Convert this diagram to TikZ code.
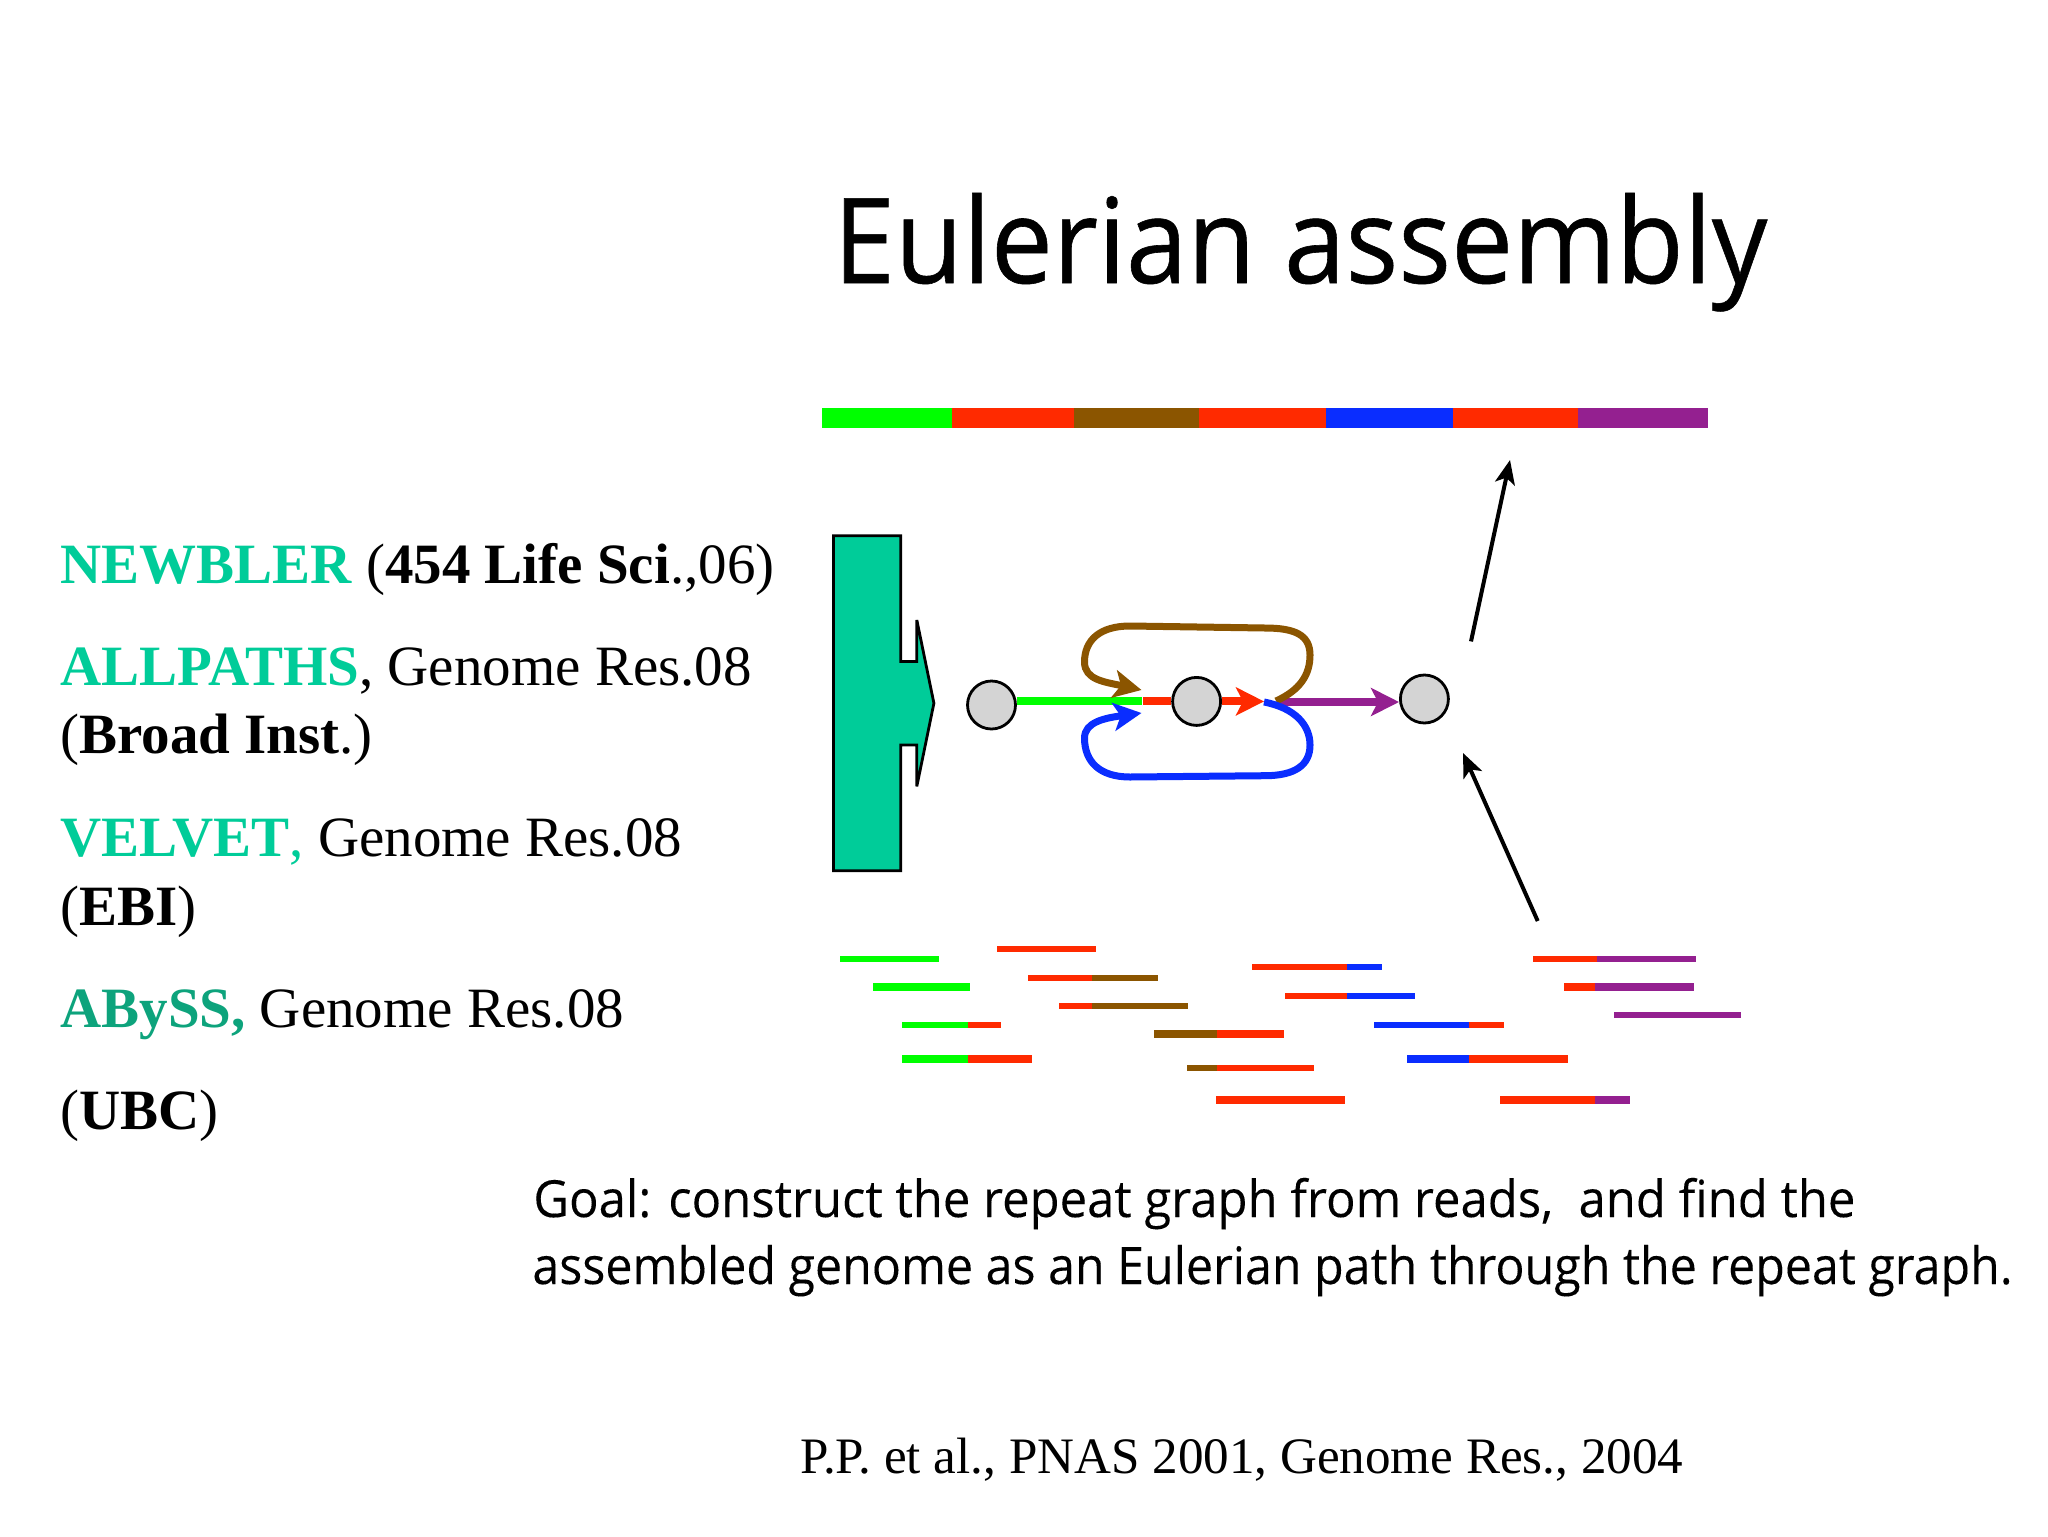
\documentclass[tikz,border=0pt]{standalone}
\usepackage{fontspec}
\usepackage{graphicx}
\setmainfont{Liberation Serif}
\newfontfamily\sansf{Open Sans}
\newfontfamily\sanstitle{Open Sans}[FakeBold=0.5]
\newfontfamily\sansgoal{Open Sans}[FakeBold=0.15]
\usetikzlibrary{arrows.meta}
\definecolor{gGreen}{HTML}{00FF00}
\definecolor{gRed}{HTML}{FF2A00}
\definecolor{gBrown}{HTML}{8B5500}
\definecolor{gBlue}{HTML}{0A2DFF}
\definecolor{gPurple}{HTML}{942090}
\definecolor{teal}{HTML}{00CC99}
\definecolor{tealD}{HTML}{0DA37C}
\tikzset{
  vertex/.style={circle,draw=black,fill=black!17,line width=1.4pt,minimum size=24pt,inner sep=0pt},
  edge/.style={line width=4pt},
  loop/.style={line width=3.5pt},
  tip/.style={-{Stealth[length=14pt,width=14pt,inset=3.5pt]}},
  ptr/.style={line width=2pt,-{Stealth[length=12pt,width=10pt,inset=3pt]}},
  lbl/.style={anchor=base west,inner sep=0pt,font=\fontsize{28.5}{29}\selectfont},
  sans/.style={anchor=base west,inner sep=0pt},
}
\begin{document}
\begin{tikzpicture}[x=0.5pt,y=-0.5pt]
\useasboundingbox (0,0) rectangle (2048,1536);
\fill[white] (0,0) rectangle (2048,1536);
% title
\node[sans,font=\sanstitle] (title) at (833,283) {\resizebox{467pt}{45pt}{Eulerian assembly}};
% genome bar
\foreach \a/\b/\c in {822/951.7/gGreen,951.7/1073.5/gRed,1073.5/1199/gBrown,1199/1326.4/gRed,1326.4/1452.6/gBlue,1452.6/1578/gRed,1578/1708/gPurple}
  \fill[\c] (\a,408) rectangle (\b,427.5);
% big arrow
\draw[fill=teal,line width=1.4pt,miter limit=3] (833.5,535.7) -- (900.8,535.7) -- (900.8,661.4) -- (916.8,661.4) -- (916.8,620) -- (933.9,703.2) -- (916.8,786.4) -- (916.8,745) -- (900.8,745) -- (900.8,870.7) -- (833.5,870.7) -- cycle;
% vertices
\node[vertex] (c1) at (991.5,705) {};
\node[vertex] (c2) at (1196.6,701.4) {};
\node[vertex] (c3) at (1424.4,699) {};
\coordinate (jin) at (1141.5,701.4);
\coordinate (jout) at (1264,701.4);
\coordinate (pstart) at (1279,702);
\coordinate (broIn) at (1141.5,690);
\coordinate (bluIn) at (1141.5,713);
% edges
\draw[edge,gGreen] (c1.east |- jin) -- (jin);
\draw[edge,gRed] (1143,701.4) -- (c2.west |- jin);
\draw[edge,gRed,tip] (c2.east |- jout) -- (jout);
\draw[edge,gPurple,tip] (pstart) -- (c3.west |- pstart);
\draw[loop,gBrown,tip] (1276,701) .. controls (1300,690) and (1310,675) .. (1310,655)
  .. controls (1310,635) and (1295,628) .. (1265,628)
  -- (1130,626)
  .. controls (1100,626) and (1084.5,640) .. (1084.5,662)
  .. controls (1084.5,680) and (1105,682) .. (broIn);
\draw[loop,gBlue,tip] (1264,702) .. controls (1295,708) and (1310,725) .. (1310,745)
  .. controls (1310,765) and (1295,775.7) .. (1265,775.7)
  -- (1130,777)
  .. controls (1100,777) and (1084.5,762) .. (1084.5,738)
  .. controls (1084.5,722) and (1105,718) .. (bluIn);
% pointers
\coordinate (p1s) at (1471,641.4);
\coordinate (p1e) at (1510,460);
\coordinate (p2s) at (1537.7,921);
\coordinate (p2e) at (1463,753);
\draw[ptr] (p1s) -- (p1e);
\draw[ptr] (p2s) -- (p2e);
% reads
\begin{scope}[shift={(820,930)}]
\begin{scope}[x=0.30618pt,y=-0.16667pt]
\foreach \a/\b/\y/\h/\c in {
 33/194/87/18/gGreen, 289/451/57/18/gRed,
 340/444/144/18/gRed, 444/552/144/18/gBrown,
 87/245/171/24/gGreen,
 390/444/229/18/gRed, 444/601/229/18/gBrown,
 134/242/285/18/gGreen, 242/296/285/18/gRed,
 134/242/386/24/gGreen, 242/346/386/24/gRed,
 545/649/313/24/gBrown, 649/757/313/24/gRed,
 599/649/415/18/gBrown, 649/807/415/18/gRed,
 646/858/510/24/gRed,
 706/861/112/18/gRed, 861/918/112/18/gBlue,
 760/861/199/18/gRed, 861/972/199/18/gBlue,
 905/1060/285/18/gBlue, 1060/1117/285/18/gRed,
 959/1060/386/24/gBlue, 1060/1222/386/24/gRed,
 1111/1265/510/24/gRed, 1265/1323/510/24/gPurple,
 1165/1269/87/18/gRed, 1269/1431/87/18/gPurple,
 1215/1265/171/24/gRed, 1265/1428/171/24/gPurple,
 1296/1504/255/18/gPurple}
  \fill[\c] (\a,\y-\h/2) rectangle (\b,\y+\h/2);
\end{scope}
\end{scope}
% left list
\node[lbl] (t1) at (60,583) {\textbf{\textcolor{teal}{NEWBLER}} (\textbf{454 Life Sci}.,06)};
\node[lbl] (t2) at (60,685.6) {\textbf{\textcolor{teal}{ALLPATHS}}, Genome Res.08};
\node[lbl] (t3) at (60,753.7) {(\textbf{Broad Inst}.)};
\node[lbl] (t4) at (60,856.5) {\textbf{\textcolor{teal}{VELVET}}\textcolor{teal}{,} Genome Res.08};
\node[lbl] (t5) at (60,925) {(\textbf{EBI})};
\node[lbl] (t6) at (60,1027) {\textbf{\textcolor{tealD}{ABySS,}} Genome Res.08};
\node[lbl] (t7) at (60,1129.7) {(\textbf{UBC})};
% goal
\node[sans,font=\sansgoal] (g1) at (533,1217) {\resizebox{661pt}{19.6pt}{Goal: construct the repeat graph from reads,\ \ and find the}};
\node[sans,font=\sansgoal] (g2) at (532,1284) {\resizebox{740pt}{19.6pt}{assembled genome as an Eulerian path through the repeat graph.}};
% citation
\node[lbl] (cite) at (800,1473) {\fontsize{25.55}{26}\selectfont P.P. et al., PNAS 2001, Genome Res., 2004};
\end{tikzpicture}
\end{document}
